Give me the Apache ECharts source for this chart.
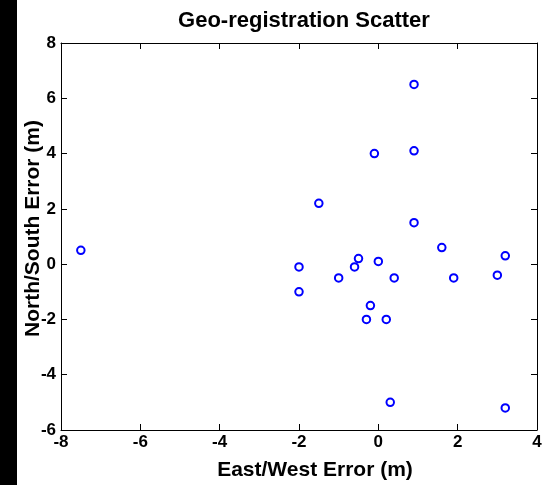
<!DOCTYPE html>
<html>
<head>
<meta charset="utf-8">
<script src="https://cdn.jsdelivr.net/npm/echarts@6/dist/echarts.min.js"></script>
<style>
  html, body { margin: 0; padding: 0; background: #fff; }
  #chart { width: 543px; height: 485px; }
</style>
</head>
<body>
<div id="chart"></div>
<script>
// East/West and North/South geo-registration errors, in metres
const eastWest = [-7.5, -2.0, -2.0, -1.5, -1.0, -0.6, -0.5, -0.3, -0.2, -0.1, 0.0, 0.2, 0.3, 0.4, 0.9, 0.9, 0.9, 1.6, 1.9, 3.0, 3.2, 3.2];
const northSouth = [0.5, -0.1, -1.0, 2.2, -0.5, -0.1, 0.2, -2.0, -1.5, 4.0, 0.1, -2.0, -5.0, -0.5, 6.5, 4.1, 1.5, 0.6, -0.5, -0.4, 0.3, -5.2];

const xTicks = [-8, -6, -4, -2, 0, 2, 4];
const yTicks = [-6, -4, -2, 0, 2, 4, 6, 8];

const points = eastWest.map((x, i) => [x, northSouth[i]]);

const font = 'Liberation Sans, Arial, sans-serif';
const axisLine = { show: true, onZero: false, lineStyle: { color: '#000', width: 1 } };
const axisTick = { show: true, inside: true, length: 6, lineStyle: { color: '#000' } };
const tickLabel = { color: '#000', fontFamily: font, fontWeight: 'bold', fontSize: 17 };

const chart = echarts.init(document.getElementById('chart'));
chart.setOption({
  animation: false,
  backgroundColor: '#fff',
  graphic: [{
    type: 'rect',
    shape: { x: 0, y: 0, width: 17, height: 485 },
    style: { fill: '#000' },
    silent: true
  }],
  title: {
    text: 'Geo-registration Scatter',
    left: 299, top: 5, textAlign: 'center',
    textStyle: { color: '#000', fontFamily: font, fontWeight: 'bold', fontSize: 22 }
  },
  grid: { left: 61, right: 6, top: 43, bottom: 55, outerBoundsMode: 'none' },
  xAxis: [{
    type: 'value', position: 'bottom',
    min: xTicks[0], max: xTicks[xTicks.length - 1], interval: 2,
    name: 'East/West Error (m)', nameLocation: 'middle', nameGap: 30, nameMoveOverlap: false,
    nameTextStyle: { color: '#000', fontFamily: font, fontWeight: 'bold', fontSize: 21, padding: [0, 0, 0, 32] },
    axisLine, axisTick, splitLine: { show: false },
    axisLabel: Object.assign({ margin: 4 }, tickLabel)
  }, {
    type: 'value', position: 'top',
    min: xTicks[0], max: xTicks[xTicks.length - 1], interval: 2,
    axisLine, axisTick, splitLine: { show: false }, axisLabel: { show: false }
  }],
  yAxis: [{
    type: 'value', position: 'left',
    min: yTicks[0], max: yTicks[yTicks.length - 1], interval: 2,
    name: 'North/South Error (m)', nameLocation: 'middle', nameGap: 17, nameMoveOverlap: false,
    nameTextStyle: { color: '#000', fontFamily: font, fontWeight: 'bold', fontSize: 21, padding: [0, 0, 0, 16] },
    axisLine, axisTick, splitLine: { show: false },
    axisLabel: Object.assign({ margin: 5 }, tickLabel)
  }, {
    type: 'value', position: 'right',
    min: yTicks[0], max: yTicks[yTicks.length - 1], interval: 2,
    axisLine, axisTick, splitLine: { show: false }, axisLabel: { show: false }
  }],
  series: [{
    type: 'scatter',
    xAxisIndex: 0, yAxisIndex: 0,
    data: points,
    symbol: 'circle',
    symbolSize: 7.5,
    itemStyle: { color: 'rgba(0,0,0,0)', borderColor: '#0000ff', borderWidth: 2, opacity: 1 }
  }]
});
</script>
</body>
</html>
